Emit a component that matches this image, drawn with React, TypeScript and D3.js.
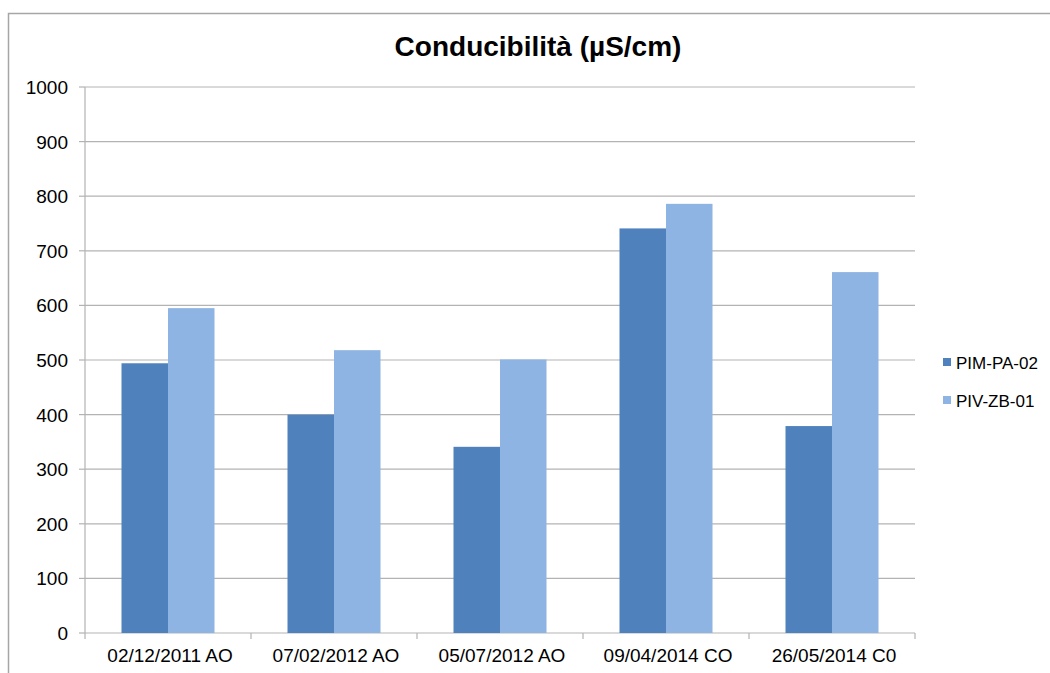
import React from "react";
import * as d3 from "d3";

const categories = ["02/12/2011 AO", "07/02/2012 AO", "05/07/2012 AO", "09/04/2014 CO", "26/05/2014 C0"];
const seriesNames = ["PIM-PA-02", "PIV-ZB-01"];
const pimValues = [494, 400, 341, 741, 379];
const pivValues = [595, 518, 501, 786, 661];
const yTicks = [0, 100, 200, 300, 400, 500, 600, 700, 800, 900, 1000];
const colors = ["#4F81BD", "#8EB4E3"];

export default function App() {
  const W = 1050, H = 673;
  const left = 85, right = 915, top = 87, bottom = 633;
  const x = d3.scaleBand().domain(categories).range([left, right]);
  const y = d3.scaleLinear().domain([0, 1000]).range([bottom, top]);
  const barW = 46.5;
  const series = [pimValues, pivValues];
  const font = "'Liberation Sans', Arial, sans-serif";

  return (
    <svg width={W} height={H} style={{ position: "absolute", left: 0, top: 0, display: "block" }} fontFamily={font}>
      <rect x={0} y={0} width={W} height={H} fill="#fff" />
      <rect x={8.5} y={13.5} width={1100} height={700} fill="none" stroke="#a6a6a6" strokeWidth={1.5} />
      <text x={538} y={56} textAnchor="middle" fontSize={28} fontWeight="bold" fill="#000">Conducibilità (µS/cm)</text>
      {yTicks.map((t) => (
        <g key={t}>
          <line x1={left} x2={right} y1={y(t)} y2={y(t)} stroke="#b3b3b3" strokeWidth={1.2} />
          <line x1={left - 6} x2={left} y1={y(t)} y2={y(t)} stroke="#b3b3b3" strokeWidth={1.2} />
          <text x={left - 17} y={y(t) + 7} textAnchor="end" fontSize={19} fill="#000">{t}</text>
        </g>
      ))}
      {categories.map((c, i) => (
        <g key={c}>
          {series.map((s, j) => {
            const cx = (x(c) as number) + x.bandwidth() / 2;
            const bx = cx - barW + j * barW;
            return <rect key={j} x={bx} y={y(s[i])} width={barW} height={bottom - y(s[i])} fill={colors[j]} />;
          })}
          <text x={(x(c) as number) + x.bandwidth() / 2 + 2} y={662} textAnchor="middle" fontSize={19} fill="#000">{c}</text>
        </g>
      ))}
      <line x1={left} x2={left} y1={top} y2={bottom} stroke="#b3b3b3" strokeWidth={1.2} />
      {[...categories.map((c) => x(c) as number), right].map((v, i) => (
        <line key={i} x1={v} x2={v} y1={bottom} y2={bottom + 6} stroke="#b3b3b3" strokeWidth={1.2} />
      ))}
      {seriesNames.map((n, i) => (
        <g key={n}>
          <rect x={943} y={358 + i * 38} width={8} height={8} fill={colors[i]} />
          <text x={956} y={368.5 + i * 38} fontSize={17} fill="#000">{n}</text>
        </g>
      ))}
    </svg>
  );
}
